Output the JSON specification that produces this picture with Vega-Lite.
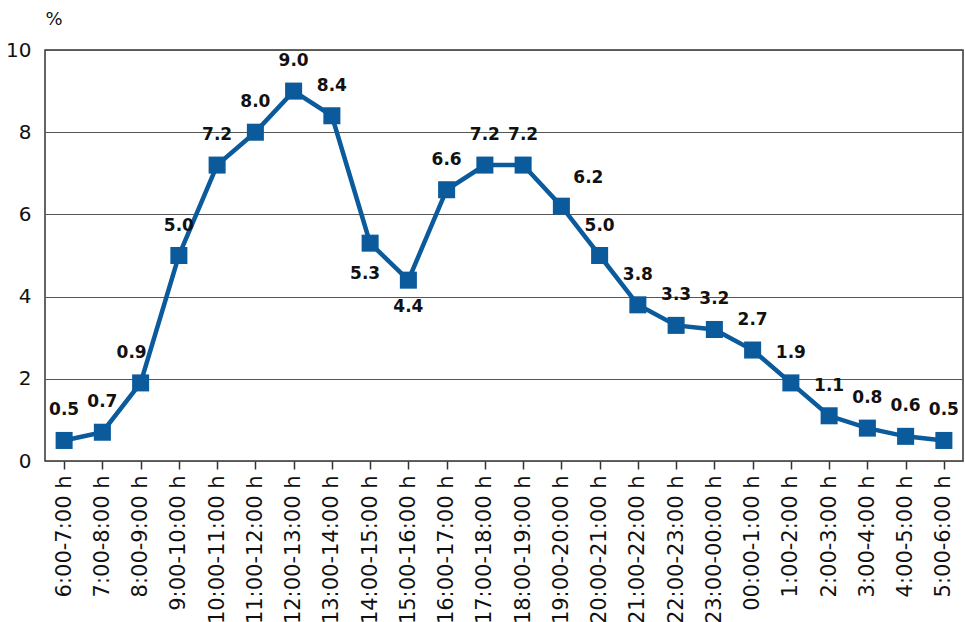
{
  "$schema": "https://vega.github.io/schema/vega-lite/v6.json",
  "width": 918,
  "height": 411,
  "padding": {"left": 5, "top": 10, "right": 3, "bottom": 0},
  "background": "white",
  "config": {
    "view": {"stroke": "#333", "strokeWidth": 1.5},
    "font": "DejaVu Sans"
  },
  "data": {
    "values": [
      {"time": "6:00-7:00 h", "value": 0.5, "label": "0.5"},
      {"time": "7:00-8:00 h", "value": 0.7, "label": "0.7"},
      {"time": "8:00-9:00 h", "value": 1.9, "label": "0.9"},
      {"time": "9:00-10:00 h", "value": 5.0, "label": "5.0"},
      {"time": "10:00-11:00 h", "value": 7.2, "label": "7.2"},
      {"time": "11:00-12:00 h", "value": 8.0, "label": "8.0"},
      {"time": "12:00-13:00 h", "value": 9.0, "label": "9.0"},
      {"time": "13:00-14:00 h", "value": 8.4, "label": "8.4"},
      {"time": "14:00-15:00 h", "value": 5.3, "label": "5.3"},
      {"time": "15:00-16:00 h", "value": 4.4, "label": "4.4"},
      {"time": "16:00-17:00 h", "value": 6.6, "label": "6.6"},
      {"time": "17:00-18:00 h", "value": 7.2, "label": "7.2"},
      {"time": "18:00-19:00 h", "value": 7.2, "label": "7.2"},
      {"time": "19:00-20:00 h", "value": 6.2, "label": "6.2"},
      {"time": "20:00-21:00 h", "value": 5.0, "label": "5.0"},
      {"time": "21:00-22:00 h", "value": 3.8, "label": "3.8"},
      {"time": "22:00-23:00 h", "value": 3.3, "label": "3.3"},
      {"time": "23:00-00:00 h", "value": 3.2, "label": "3.2"},
      {"time": "00:00-1:00 h", "value": 2.7, "label": "2.7"},
      {"time": "1:00-2:00 h", "value": 1.9, "label": "1.9"},
      {"time": "2:00-3:00 h", "value": 1.1, "label": "1.1"},
      {"time": "3:00-4:00 h", "value": 0.8, "label": "0.8"},
      {"time": "4:00-5:00 h", "value": 0.6, "label": "0.6"},
      {"time": "5:00-6:00 h", "value": 0.5, "label": "0.5"}
    ]
  },
  "encoding": {
    "x": {
      "field": "time",
      "type": "ordinal",
      "sort": null,
      "scale": {"type": "point", "padding": 0.5},
      "axis": {
        "title": null,
        "labelAngle": -90,
        "labelAlign": "right",
        "labelBaseline": "middle",
        "labelFontSize": 21,
        "labelColor": "#111",
        "labelPadding": 6,
        "labelOverlap": false,
        "tickSize": 8,
        "tickColor": "#333",
        "tickWidth": 1.5,
        "domain": false,
        "grid": false
      }
    },
    "y": {
      "field": "value",
      "type": "quantitative",
      "scale": {"domain": [0, 10]},
      "axis": {
        "values": [0, 2, 4, 6, 8, 10],
        "title": "%",
        "titleAngle": 0,
        "titleAlign": "left",
        "titleBaseline": "bottom",
        "titleX": 0,
        "titleY": -22,
        "titleFontSize": 18,
        "titleFontWeight": "normal",
        "titleColor": "#111",
        "labelFontSize": 20,
        "labelColor": "#111",
        "labelPadding": 14,
        "ticks": false,
        "domain": false,
        "grid": true,
        "gridColor": "#555",
        "gridWidth": 1
      }
    }
  },
  "layer": [
    {
      "mark": {"type": "line", "color": "#0a5a9c", "strokeWidth": 4.5}
    },
    {
      "mark": {"type": "point", "shape": "square", "filled": true, "opacity": 1, "color": "#0a5a9c", "size": 290}
    },
    {
      "transform": [{"filter": {"not": {"field": "time", "oneOf": ["8:00-9:00 h", "19:00-20:00 h", "14:00-15:00 h", "15:00-16:00 h"]}}}],
      "mark": {"type": "text", "dy": -30, "fontSize": 17, "fontWeight": "bold", "color": "#111", "baseline": "middle"},
      "encoding": {"text": {"field": "label"}}
    },
    {
      "transform": [{"filter": {"field": "time", "equal": "8:00-9:00 h"}}],
      "mark": {"type": "text", "dy": -30, "dx": -9, "fontSize": 17, "fontWeight": "bold", "color": "#111", "baseline": "middle"},
      "encoding": {"text": {"field": "label"}}
    },
    {
      "transform": [{"filter": {"field": "time", "equal": "19:00-20:00 h"}}],
      "mark": {"type": "text", "dy": -28, "dx": 27, "fontSize": 17, "fontWeight": "bold", "color": "#111", "baseline": "middle"},
      "encoding": {"text": {"field": "label"}}
    },
    {
      "transform": [{"filter": {"field": "time", "equal": "14:00-15:00 h"}}],
      "mark": {"type": "text", "dy": 31, "dx": -5, "fontSize": 17, "fontWeight": "bold", "color": "#111", "baseline": "middle"},
      "encoding": {"text": {"field": "label"}}
    },
    {
      "transform": [{"filter": {"field": "time", "equal": "15:00-16:00 h"}}],
      "mark": {"type": "text", "dy": 27, "fontSize": 17, "fontWeight": "bold", "color": "#111", "baseline": "middle"},
      "encoding": {"text": {"field": "label"}}
    }
  ]
}
